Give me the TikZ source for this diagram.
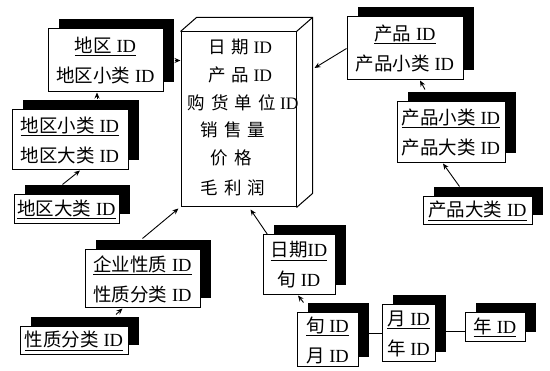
\documentclass[tikz,border=0pt]{standalone}
\usepackage{fontspec}
\setmainfont{Liberation Serif}
\newfontfamily\cjk{Noto Sans CJK SC}
\newfontfamily\cjkw[LetterSpace=35]{Noto Sans CJK SC}
\usetikzlibrary{shadows,calc,arrows.meta}
\newcommand\zh[1]{{\cjk #1}}
\newcommand\zw[1]{{\cjkw #1}}
\tikzset{
  tbl/.style={draw, line width=1pt, fill=white, inner sep=0pt, align=center,
    font=\fontsize{18.5}{30}\selectfont,
    drop shadow={shadow xshift=11pt, shadow yshift=10pt, fill=black, opacity=1}},
  arr/.style={-{Stealth[length=6pt,width=5pt]}, line width=0.9pt},
  conn/.style={line width=1pt},
  ctext/.style={font=\fontsize{17.5}{20}\selectfont, inner sep=0pt},
  cube/.style={line width=1pt}
}
\begin{document}
\begin{tikzpicture}[x=1pt,y=-1pt]
\path[fill=white] (0,0) rectangle (550,371);
\useasboundingbox (0,0) rectangle (550,371);

% central fact table (cuboid)
\node[draw, cube, minimum width=115, minimum height=175, inner sep=0pt] (fact) at (238.5,119.5) {};
\coordinate (bkTL) at ($(fact.north west)+(16,-14)$);
\coordinate (bkTR) at ($(fact.north east)+(16,-14)$);
\coordinate (bkBR) at ($(fact.south east)+(16,-14)$);
\draw[cube] (fact.north west) -- (bkTL) -- (bkTR) -- (bkBR) -- (fact.south east);
\draw[cube] (fact.north east) -- (bkTR);
\node[ctext] (c1) at (240,47) {\zw{日期} ID};
\node[ctext] (c2) at (240,75) {\zw{产品} ID};
\node[ctext] (c3) at (243,103) {\zw{购货单位} ID};
\node[ctext] (c4) at (233,130) {\zw{销售量}};
\node[ctext] (c5) at (231,158) {\zw{价格}};
\node[ctext] (c6) at (233,188) {\zw{毛利润}};

% dimension tables
\node[tbl, minimum width=115, minimum height=63] (B1) at (105.5,60.5) {\underline{\zh{地区} ID}\\\zh{地区小类} ID};
\node[tbl, minimum width=116, minimum height=60] (B2) at (70,140) {\underline{\zh{地区小类} ID}\\\zh{地区大类} ID};
\node[tbl, minimum width=105, minimum height=29] (B3) at (66.5,209.5) {\underline{\zh{地区大类} ID}};
\node[tbl, minimum width=115, minimum height=58] (B4) at (142.5,279) {\underline{\zh{企业性质} ID}\\\zh{性质分类} ID};
\node[tbl, minimum width=108, minimum height=28] (B5) at (74,341) {\underline{\zh{性质分类} ID}};
\node[tbl, minimum width=72, minimum height=60] (B6) at (299,265) {\underline{\zh{日期}ID}\\\zh{旬} ID};
\node[tbl, minimum width=61, minimum height=54] (B7) at (327.5,340) {\underline{\zh{旬} ID}\\\zh{月} ID};
\node[tbl, minimum width=53, minimum height=57] (B8) at (408.5,333.5) {\underline{\zh{月} ID}\\\zh{年} ID};
\node[tbl, minimum width=60, minimum height=29] (B9) at (495,327.5) {\underline{\zh{年} ID}};
\node[tbl, minimum width=116, minimum height=63] (B10) at (405,48.5) {\underline{\zh{产品} ID}\\\zh{产品小类} ID};
\node[tbl, minimum width=108, minimum height=61] (B11) at (451,132.5) {\underline{\zh{产品小类} ID}\\\zh{产品大类} ID};
\node[tbl, minimum width=109, minimum height=28] (B12) at (477.5,211) {\underline{\zh{产品大类} ID}};

% connectors
\draw[arr] ($(B1.east)+(11,0)$) -- (B1.east -| fact.west);
\draw[arr] ($(B2.north)+(27,-10)$) -- ($(B1.south)+(-8.5,0)$);
\draw[arr] ($(B3.north)+(-4,-10)$) -- ($(B2.south)+(10,0)$);
\draw[arr] ($(B4.north)+(0,-11)$) -- ($(fact.south west)+(-2,1)$);
\draw[arr] ($(B5.north)+(42,-12)$) -- ($(B4.south)+(-20,0)$);
\draw[arr] ($(B6.north west)+(5,0)$) -- ($(fact.south)+(12,2)$);
\draw[arr] ($(B7.north)+(-24,-10)$) -- ($(B6.south)+(-1,0)$);
\draw[conn] (B8.west) -- (B8.west -| B7.east);
\draw[conn] ($(B9.west)+(0,4)$) -- ($(B9.west -| B8.east)+(0,4)$);
\draw[arr] (B10.west) -- ($(fact.east)+(18,-51.5)$);
\draw[arr] ($(B11.north)+(-26,-12)$) -- ($(B10.south)+(15,0)$);
\draw[arr] ($(B12.north)+(-18,-10)$) -- ($(B11.south)+(-8,0)$);
\end{tikzpicture}
\end{document}
